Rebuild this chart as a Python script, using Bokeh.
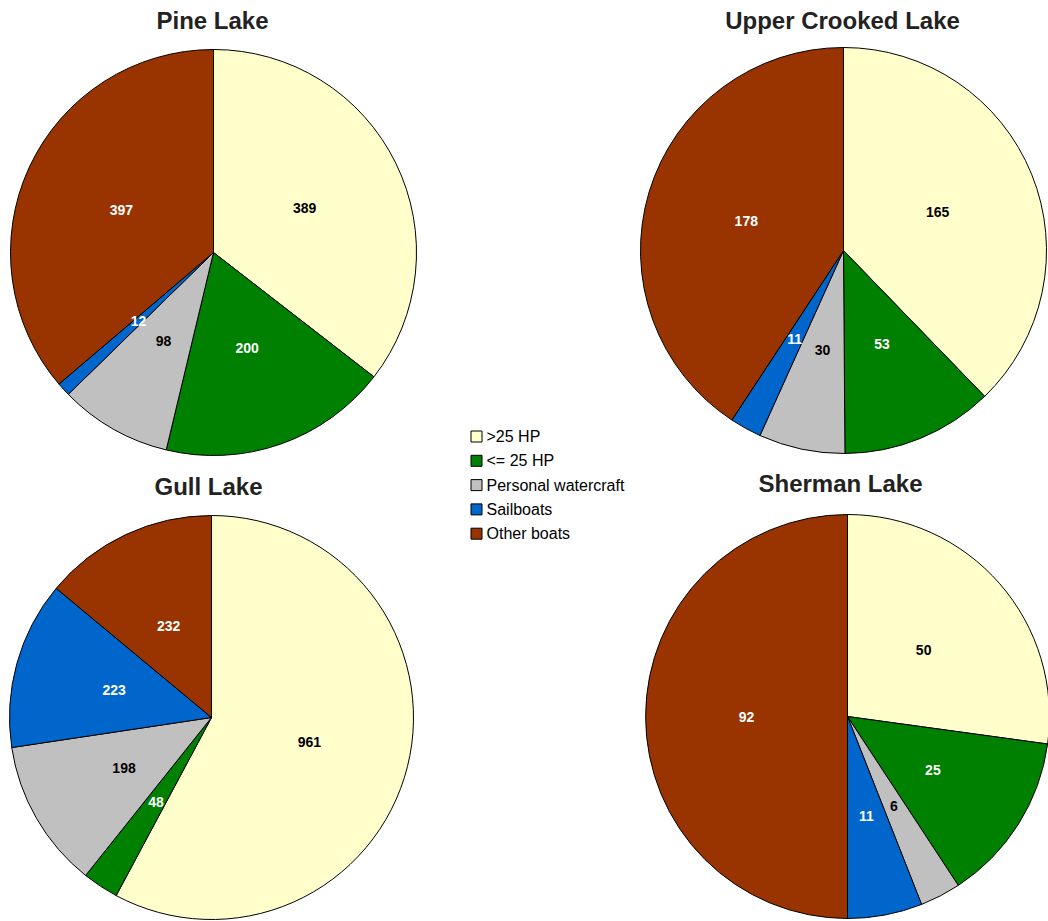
import math
from bokeh.plotting import figure
from bokeh.models import Range1d, ColumnDataSource
from bokeh.core.properties import value
from bokeh.embed import file_html
from bokeh.resources import INLINE

categories = [">25 HP", "<= 25 HP", "Personal watercraft", "Sailboats", "Other boats"]
colors = ["#FFFFCC", "#008000", "#C0C0C0", "#0066CC", "#993300"]
label_colors = ["black", "white", "black", "white", "white"]

lakes = ["Pine Lake", "Upper Crooked Lake", "Gull Lake", "Sherman Lake"]
pine = [389, 200, 98, 12, 397]
upper_crooked = [165, 53, 30, 11, 178]
gull = [961, 48, 198, 223, 232]
sherman = [50, 25, 6, 11, 92]
series = [pine, upper_crooked, gull, sherman]

W, H = 1048, 921
# layout: pie centres (screen px), radii, title positions
centers = [(213, 252), (843, 250), (211, 717), (847, 716)]
radii = [203, 203, 202, 202]
title_pos = [(212, 20), (842, 20), (208, 486), (840, 483)]

p = figure(width=W, height=H, output_backend="svg", toolbar_location=None,
           x_range=Range1d(0, W), y_range=Range1d(0, H), min_border=0)
p.axis.visible = False
p.grid.visible = False
p.outline_line_color = None
p.background_fill_color = "white"

for lake, vals, (cx, cy), r, (tx, ty) in zip(lakes, series, centers, radii, title_pos):
    total = float(sum(vals))
    cum = 0.0
    starts, ends, lx, ly = [], [], [], []
    for v in vals:
        a0 = cum / total
        cum += v
        a1 = cum / total
        starts.append(math.pi / 2 - a1 * 2 * math.pi)
        ends.append(math.pi / 2 - a0 * 2 * math.pi)
        mid = (a0 + a1) / 2 * 2 * math.pi
        lx.append(cx + 0.5 * r * math.sin(mid))
        ly.append(H - (cy - 0.5 * r * math.cos(mid)))
    src = ColumnDataSource(dict(start=starts, end=ends, color=colors,
                                lx=lx, ly=ly, txt=[str(v) for v in vals],
                                tc=label_colors))
    p.wedge(x=cx, y=H - cy, radius=r, start_angle="start", end_angle="end",
            fill_color="color", line_color="black", line_width=1, source=src)
    p.text(x="lx", y="ly", text="txt", text_color="tc", source=src,
           text_align="center", text_baseline="middle",
           text_font=value("Liberation Sans"), text_font_style="bold",
           text_font_size="14px")
    p.text(x=[tx], y=[H - ty], text=[lake], text_align="center",
           text_baseline="middle", text_font=value("Liberation Sans"),
           text_font_style="bold", text_font_size="24px", text_color="#222222")

# legend
leg_x, leg_y0, leg_dy = 476, 436, 24.3
lsrc = ColumnDataSource(dict(
    x=[leg_x] * 5, y=[H - (leg_y0 + i * leg_dy) for i in range(5)],
    tx=[leg_x + 10] * 5, color=colors, lab=categories))
p.rect(x="x", y="y", width=11, height=11, fill_color="color",
       line_color="black", line_width=1, source=lsrc)
p.text(x="tx", y="y", text="lab", source=lsrc, text_align="left",
       text_baseline="middle", text_font=value("Liberation Sans"),
       text_font_size="16px", text_color="black")

open("out.html", "w").write(file_html(p, INLINE))
